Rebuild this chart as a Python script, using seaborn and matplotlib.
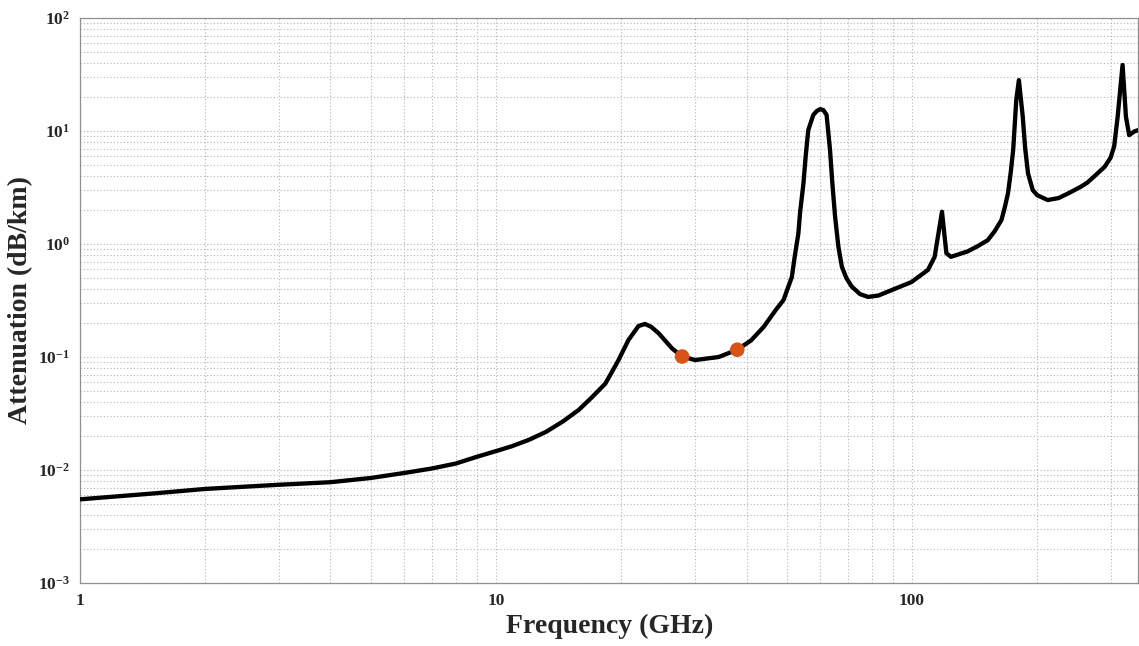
import numpy as np
import pandas as pd
import matplotlib
matplotlib.use("Agg")
import matplotlib.pyplot as plt
import seaborn as sns
from matplotlib.ticker import FixedLocator, NullFormatter

# ---- data ----
freq_ghz = [1.0, 1.5, 2.0, 3.0, 4.0, 5.0, 6.0, 7.0, 8.0, 9.0, 10.0, 10.9,
            12.0, 13.2, 14.5, 15.8, 17.0, 18.3, 19.0, 19.7, 20.8, 22.0,
            22.8, 23.6, 24.6, 26.5, 28.0, 30.1, 34.3, 38.0, 41.0, 44.0,
            47.0, 49.1, 51.4, 52.3, 53.3, 53.8, 54.8, 55.5, 56.3, 57.9,
            59.0, 60.1, 61.2, 62.3, 63.5, 64.3, 65.3, 66.5, 67.8, 69.5,
            71.6, 75.0, 78.4, 83.0, 89.2, 99.6, 109.2, 113.3, 118.0, 120.9,
            124.0, 136.0, 144.0, 152.0, 158.0, 164.0, 167.0, 170.0, 172.5,
            175.0, 178.0, 180.6, 184.5, 187.0, 190.0, 195.0, 200.0, 211.8,
            225.0, 237.0, 254.0, 264.0, 290.0, 300.0, 306.0, 312.0, 316.0,
            320.6, 326.6, 332.5, 342.0, 350.0]
atten_db_km = [0.0055, 0.0062, 0.0068, 0.0074, 0.0078, 0.0085, 0.0094, 0.0103,
               0.0114, 0.0131, 0.0147, 0.0162, 0.0185, 0.0218, 0.027, 0.034,
               0.044, 0.058, 0.074, 0.094, 0.141, 0.188, 0.196, 0.185, 0.162,
               0.119, 0.101, 0.094, 0.100, 0.116, 0.14, 0.185, 0.26, 0.32,
               0.51, 0.8, 1.24, 1.9, 3.4, 6.0, 10.2, 13.9, 15.0, 15.6, 15.3,
               13.9, 6.8, 3.5, 1.75, 0.95, 0.63, 0.5, 0.42, 0.36, 0.34, 0.35,
               0.39, 0.46, 0.59, 0.77, 1.93, 0.83, 0.77, 0.86, 0.96, 1.08,
               1.3, 1.63, 2.1, 2.8, 4.2, 6.8, 18.8, 28.2, 13.4, 7.0, 4.2, 3.0,
               2.7, 2.45, 2.55, 2.8, 3.2, 3.5, 4.8, 5.8, 7.3, 13.4, 22.0, 38.4,
               13.4, 9.2, 9.9, 10.2]
marker_freq = [28.0, 38.0]
marker_atten = [0.101, 0.116]

x_ticks = [1, 10, 100]
x_tick_labels = ["1", "10", "100"]
y_ticks = [1e-3, 1e-2, 1e-1, 1e0, 1e1, 1e2]
y_tick_labels = [r"$10^{-3}$", r"$10^{-2}$", r"$10^{-1}$",
                 r"$10^{0}$", r"$10^{1}$", r"$10^{2}$"]

# ---- style ----
sns.set_theme(style="white")
plt.rcParams["font.family"] = ["Liberation Serif", "DejaVu Serif"]
plt.rcParams["mathtext.fontset"] = "custom"
plt.rcParams["mathtext.rm"] = "Liberation Serif:bold"
plt.rcParams["mathtext.it"] = "Liberation Serif:italic:bold"
plt.rcParams["mathtext.bf"] = "Liberation Serif:bold"

W, H = 1139, 646
fig = plt.figure(figsize=(W / 100, H / 100), dpi=100)
ax = fig.add_axes([80 / W, 1 - 583 / H, (W - 80) / W - 0.0005, (583 - 18) / H])
ax.set_xscale("log")
ax.set_yscale("log")

df = pd.DataFrame({"freq": freq_ghz, "atten": atten_db_km})
sns.lineplot(data=df, x="freq", y="atten", sort=False, errorbar=None,
             color="black", linewidth=3.1, ax=ax, zorder=3,
             solid_joinstyle="round", solid_capstyle="round")
mk = pd.DataFrame({"freq": marker_freq, "atten": marker_atten})
sns.scatterplot(data=mk, x="freq", y="atten", color="#D95319", s=110,
                edgecolor="none", ax=ax, zorder=5)

ax.set_xlim(1, 350)
ax.set_ylim(1e-3, 1e2)

ax.set_xticks(x_ticks)
ax.set_xticklabels(x_tick_labels, fontsize=12.5, fontweight="bold")
ax.xaxis.set_minor_locator(FixedLocator(
    [m * 10 ** d for d in range(0, 3) for m in range(2, 10) if m * 10 ** d < 350]))
ax.xaxis.set_minor_formatter(NullFormatter())
ax.set_yticks(y_ticks)
ax.set_yticklabels(y_tick_labels, fontsize=12.5)
ax.yaxis.set_minor_locator(FixedLocator(
    [m * 10.0 ** d for d in range(-3, 2) for m in range(2, 10)]))
ax.yaxis.set_minor_formatter(NullFormatter())

ax.grid(which="both", linestyle=(0, (1, 2)), color="#b4b4b4", linewidth=0.8)
ax.tick_params(which="both", direction="in", color="#808080")
ax.tick_params(which="major", length=6, width=0.8, pad=7)
ax.tick_params(which="minor", length=3, width=0.6)
for s in ax.spines.values():
    s.set_visible(True)
    s.set_color("#909090")
    s.set_linewidth(0.9)

ax.set_xlabel("Frequency (GHz)", fontsize=20, fontweight="bold", labelpad=4)
ax.set_ylabel("Attenuation (dB/km)", fontsize=20, fontweight="bold", labelpad=4)
ax.set_facecolor("white")

fig.savefig("out.png", dpi=100, facecolor="white")
